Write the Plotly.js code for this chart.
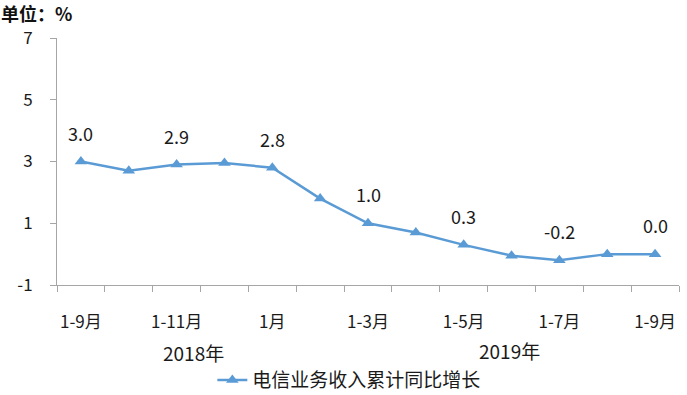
<!DOCTYPE html>
<html>
<head>
<meta charset="utf-8">
<script src="https://cdn.plot.ly/plotly-3.0.1.min.js"></script>
<style>html,body{margin:0;padding:0;background:#fff;}#chart{width:687px;height:395px;}</style>
</head>
<body>
<div id="chart"></div>
<script>
var categories = ["1-9月","1-10月","1-11月","1-12月","1月","1-2月","1-3月","1-4月","1-5月","1-6月","1-7月","1-8月","1-9月"];
var growth = [3.0, 2.7, 2.9, 2.95, 2.8, 1.8, 1.0, 0.7, 0.3, -0.05, -0.2, 0.0, 0.0];
var labelIndices = [0, 2, 4, 6, 8, 10, 12];
var groupLabels = ["2018年", "2019年"];
var seriesName = "电信业务收入累计同比增长";
var yTicks = [-1, 1, 3, 5, 7];
var yTickText = ["-1", "1", "3", "5", "7"];

var font = "Noto Sans CJK SC, Noto Sans, sans-serif";
var blue = "#5B9BD5";
var axisGray = "#A6A6A6";
var textColor = "#1a1a1a";

var xIdx = categories.map(function(_, i){ return i; });
var boundaries = [];
for (var b = 0; b <= categories.length; b++) boundaries.push(b - 0.5);

var trace = {
  x: xIdx, y: growth, type: "scatter", mode: "lines+markers",
  name: seriesName,
  line: {color: blue, width: 2.5},
  marker: {symbol: "triangle-up", size: 11, color: blue},
  xaxis: "x", yaxis: "y"
};
var tickTrace = {x: [boundaries[0], boundaries[boundaries.length-1]], y: [null, null], xaxis: "x2", yaxis: "y", showlegend: false, hoverinfo: "skip", mode: "markers"};

var annotations = labelIndices.map(function(i){
  return {x: i, y: growth[i], xref: "x", yref: "y", text: growth[i].toFixed(1),
    showarrow: false, yshift: 29, font: {family: font, size: 18, color: textColor}};
});
annotations.push({x: 2.35, y: 0, xref: "x", yref: "paper", yanchor: "middle", yshift: -67, text: groupLabels[0], showarrow: false, font: {family: font, size: 19, color: textColor}});
annotations.push({x: 8.95, y: 0, xref: "x", yref: "paper", yanchor: "middle", yshift: -65, text: groupLabels[1], showarrow: false, font: {family: font, size: 19, color: textColor}});
annotations.push({x: 0, y: 1, xref: "paper", yref: "paper", xanchor: "left", yanchor: "bottom", xshift: -58, yshift: 10, text: "<b>单位：%</b>", showarrow: false, font: {family: font, size: 18, color: "#111"}});

var layout = {
  width: 687, height: 395,
  margin: {l: 57, r: 8, t: 38, b: 110, autoexpand: false},
  paper_bgcolor: "#fff", plot_bgcolor: "#fff",
  showlegend: true,
  legend: {orientation: "h", x: 0.47, xanchor: "center", y: -0.385, yanchor: "middle", font: {family: font, size: 19, color: textColor}, bgcolor: "rgba(0,0,0,0)", borderwidth: 0},
  xaxis: {range: [-0.5, categories.length - 0.5], tickmode: "array", tickvals: labelIndices,
    ticktext: labelIndices.map(function(i){ return categories[i]; }), automargin: false,
    ticks: "outside", ticklen: 22, tickcolor: "rgba(0,0,0,0)", showline: false, showgrid: false, zeroline: false,
    tickfont: {family: font, size: 17, color: textColor}},
  xaxis2: {overlaying: "x", matches: "x", anchor: "y", side: "bottom", tickmode: "array", tickvals: boundaries,
    showticklabels: false, ticks: "outside", ticklen: 6, tickcolor: axisGray, tickwidth: 1, automargin: false,
    showline: true, linecolor: axisGray, linewidth: 1, showgrid: false, zeroline: false},
  yaxis: {range: [-1, 7], tickmode: "array", tickvals: yTicks, ticktext: yTickText, ticks: "outside", ticklen: 6, tickcolor: axisGray,
    showline: true, linecolor: axisGray, linewidth: 1, showgrid: false, zeroline: false, automargin: false,
    ticklabelstandoff: 14, tickfont: {family: font, size: 17, color: textColor}},
  annotations: annotations
};

Plotly.newPlot("chart", [trace, tickTrace], layout, {displayModeBar: false, staticPlot: true});
</script>
</body>
</html>
